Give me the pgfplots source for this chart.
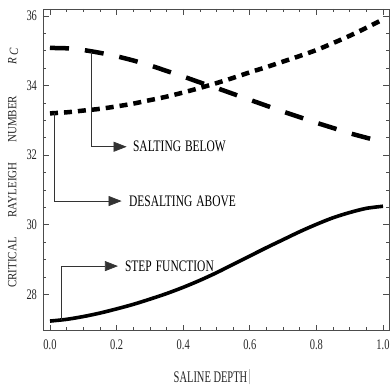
\documentclass[border=0pt]{standalone}
\usepackage{pgfplots}
\pgfplotsset{compat=1.18}
\usepackage{fontspec}
\setmainfont{Liberation Serif}
\usetikzlibrary{arrows.meta}
% text in this figure is set slightly condensed (tall letters)
\newcommand{\tall}[2][1.4]{\scalebox{1}[#1]{#2}}

\pgfplotstableread{
x     r
0.00  27.23
0.05  27.28
0.10  27.36
0.15  27.46
0.20  27.58
0.25  27.71
0.30  27.86
0.35  28.02
0.40  28.20
0.45  28.40
0.50  28.62
0.55  28.86
0.60  29.10
0.65  29.34
0.70  29.57
0.75  29.80
0.80  30.01
0.85  30.20
0.90  30.35
0.95  30.47
1.00  30.53
}\stepfn

\pgfplotstableread{
x     r
0.00  33.20
0.05  33.23
0.10  33.28
0.15  33.33
0.20  33.40
0.25  33.48
0.30  33.58
0.35  33.68
0.40  33.80
0.45  33.93
0.50  34.07
0.55  34.22
0.60  34.38
0.65  34.53
0.70  34.69
0.75  34.85
0.80  35.02
0.85  35.22
0.90  35.43
0.95  35.66
1.00  35.90
}\desalting

\pgfplotstableread{
x     r
0.00  35.08
0.05  35.07
0.10  35.02
0.15  34.94
0.20  34.84
0.25  34.72
0.30  34.58
0.35  34.42
0.40  34.26
0.45  34.09
0.50  33.93
0.55  33.76
0.60  33.59
0.65  33.42
0.70  33.25
0.75  33.09
0.80  32.93
0.85  32.78
0.90  32.63
0.95  32.50
1.00  32.38
}\salting

\begin{document}
\begin{tikzpicture}[x=1bp,y=1bp]
\useasboundingbox (0,0) rectangle (390,388);
\begin{axis}[
  at={(43bp,57.4bp)}, anchor=south west,
  width=346bp, height=321.6bp, scale only axis,
  xmin=-0.021, xmax=1.018, ymin=26.956, ymax=36.2,
  xtick={0,0.2,0.4,0.6,0.8,1.0},
  ytick={28,30,32,34,36},
  minor x tick num=3, minor y tick num=3,
  tick align=inside,
  xtick pos=both, ytick pos=both,
  major tick length=6bp, minor tick length=3.5bp,
  axis line style={black!70, line width=0.8bp},
  every tick/.style={black!70, line width=0.7bp},
  /pgf/number format/assume math mode=true,
  xticklabel={\tall{\pgfmathprintnumber[fixed,precision=1,fixed zerofill]{\tick}}},
  yticklabel={\tall{\pgfmathprintnumber[fixed,precision=0]{\tick}}},
  ticklabel style={font=\fontsize{10.5}{12}\selectfont, text=black!85},
  xticklabel shift=6bp,
  yticklabel shift=2.5bp,
  xlabel={\tall[1.55]{SALINE DEPTH}\hspace{2bp}\textcolor{black!25}{\rule[-1.7bp]{0.7bp}{15bp}}},
  xlabel style={font=\fontsize{10.5}{12}\selectfont, text=black!85,
    at={(axis description cs:0.488,-0.144)}, anchor=center},
  ylabel={\tall[1.15]{CRITICAL\hspace{1.8em}RAYLEIGH\hspace{1.8em}NUMBER\hspace{2.9em}\textit{R}\,\raisebox{-0.3ex}{\textit{C}}}},
  ylabel style={font=\fontsize{11}{13}\selectfont, text=black!85,
    at={(axis description cs:-0.086,0.506)}, anchor=center},
  clip=false,
]
% step-function profile
\addplot[black, line width=3.6bp, smooth] table[x=x, y=r] {\stepfn};
% desalting from above
\addplot[black, line width=4.5bp, smooth, line cap=butt,
  dash pattern=on 8bp off 6bp] table[x=x, y=r] {\desalting};
% salting from below
\addplot[black, line width=4.5bp, smooth, line cap=butt,
  dash pattern=on 19bp off 16bp] table[x=x, y=r] {\salting};

% curve annotations
\tikzset{callout/.style={black!80, line width=0.7bp,
  -{Triangle[length=13bp,width=10bp]}}}
\draw[callout] (axis cs:0.125,34.97) |- (axis cs:0.230,32.24);
\node[anchor=west, inner sep=0, font=\fontsize{11.5}{13}\selectfont]
  at (axis cs:0.249,32.24) {\tall{SALTING\hspace{0.35em}BELOW}};
\draw[callout] (axis cs:0.012,33.20) |- (axis cs:0.215,30.68);
\node[anchor=west, inner sep=0, font=\fontsize{11.5}{13}\selectfont]
  at (axis cs:0.237,30.68) {\tall{DESALTING\hspace{0.35em}ABOVE}};
\draw[callout] (axis cs:0.035,27.27) |- (axis cs:0.204,28.81);
\node[anchor=west, inner sep=0, font=\fontsize{11.5}{13}\selectfont]
  at (axis cs:0.225,28.81) {\tall{STEP\hspace{0.35em}FUNCTION}};
\end{axis}
\end{tikzpicture}
\end{document}
